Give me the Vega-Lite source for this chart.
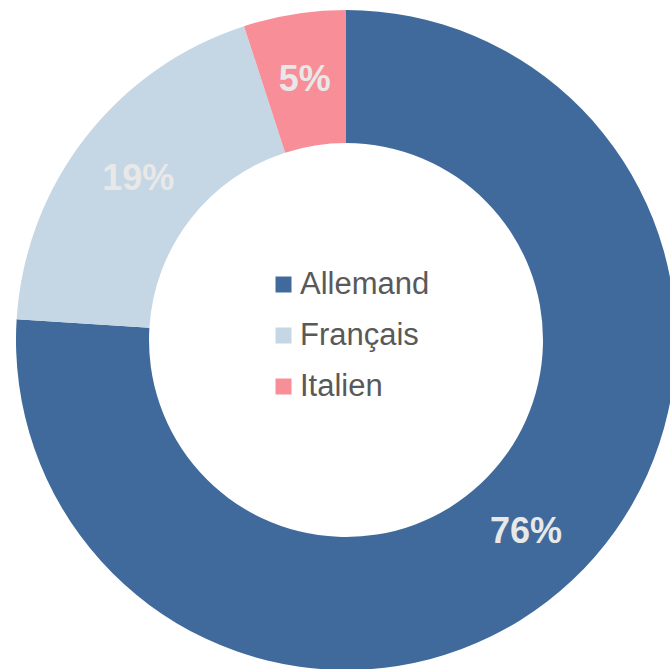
{
  "$schema": "https://vega.github.io/schema/vega-lite/v6.json",
  "width": 648,
  "height": 658,
  "autosize": {"type": "none"},
  "padding": {"left": 22, "top": 11, "right": 0, "bottom": 0},
  "background": "white",
  "view": {"stroke": null},
  "data": {
    "values": [
      {"langue": "Allemand", "part": 76, "ordre": 1, "label": "76%"},
      {"langue": "Français", "part": 19, "ordre": 2, "label": "19%"},
      {"langue": "Italien", "part": 5, "ordre": 3, "label": "5%"}
    ]
  },
  "encoding": {
    "theta": {"field": "part", "type": "quantitative", "stack": true},
    "order": {"field": "ordre", "type": "quantitative", "sort": "ascending"}
  },
  "layer": [
    {
      "mark": {"type": "arc", "outerRadius": 330, "innerRadius": 197, "stroke": null},
      "encoding": {
        "color": {
          "field": "langue",
          "type": "nominal",
          "scale": {"domain": ["Allemand", "Français", "Italien"], "range": ["#416A9C", "#C5D7E5", "#F78E98"]},
          "legend": {
            "title": null,
            "orient": "none",
            "legendX": 246,
            "legendY": 258,
            "symbolType": "square",
            "symbolSize": 256,
            "symbolStrokeWidth": 0,
            "labelFont": "Liberation Sans",
            "labelFontSize": 31,
            "labelColor": "#595959",
            "labelOffset": 1,
            "rowPadding": 19,
            "padding": 0
          }
        }
      }
    },
    {
      "mark": {"type": "text", "radius": 263, "font": "Liberation Sans", "fontWeight": "bold", "fontSize": 36, "color": "#E8E8E8", "baseline": "middle", "align": "center"},
      "encoding": {
        "text": {"field": "label", "type": "nominal"}
      }
    }
  ]
}
